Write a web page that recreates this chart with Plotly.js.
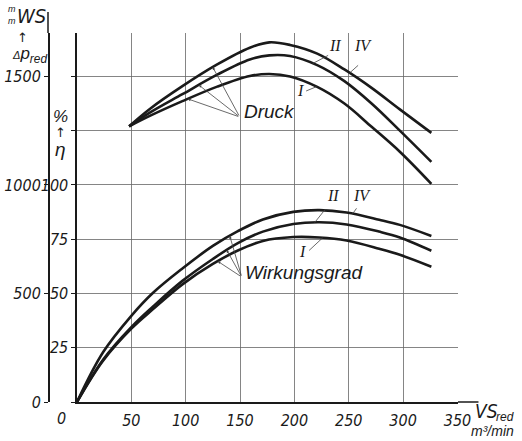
<!DOCTYPE html>
<html><head><meta charset="utf-8">
<script src="https://cdn.plot.ly/plotly-3.0.1.min.js"></script>
<style>html,body{margin:0;padding:0;background:#fff}</style>
</head><body><div id="chart" style="width:522px;height:441px"></div>
<script>
// ---- data ----
const qDruck  = [48, 67, 97, 129, 159, 177, 196, 221, 246, 271, 297, 326];
const druckIV = [1270, 1350, 1455, 1555, 1632, 1657, 1645, 1605, 1532, 1447, 1348, 1240];
const druckII = [1270, 1333, 1418, 1508, 1578, 1597, 1594, 1552, 1478, 1375, 1250, 1106];
const druckI  = [1270, 1318, 1386, 1453, 1502, 1511, 1500, 1452, 1375, 1268, 1153, 1005];
const qEta  = [0, 24, 50, 70, 97, 125, 148, 171, 199, 223, 248, 278, 297, 326];
const etaIV = [0, 22.9, 39.7, 50.3, 61.5, 71.9, 78.7, 84.1, 87.6, 88.4, 87.3, 84.0, 81.6, 76.5];
const etaII = [0, 19.5, 34.5, 44.0, 55.8, 65.9, 73.2, 78.5, 82.0, 82.8, 81.8, 78.5, 75.8, 69.7];
const etaI  = [0, 19.0, 33.8, 42.8, 54.2, 63.6, 69.8, 74.2, 76.0, 75.8, 74.4, 70.6, 67.8, 62.3];
const xTicks = [50, 100, 150, 200, 250, 300, 350];
const etaTicks = [0, 25, 50, 75, 100, 125, 150];
const etaTickText = ['', '25', '50', '75', '100', '', ''];
const dpTicks = [0, 500, 1000, 1500];

// ---- styling / layout ----
const FONT = '"Liberation Sans", Arial, sans-serif';
const NARROW = '"Liberation Sans Narrow", "DejaVu Sans Condensed", "Liberation Sans", sans-serif';
const SERIF = '"Liberation Serif", "DejaVu Serif", serif';
const INK = '#1a1a1a';
const W = 522, H = 441;
const L = 48, R = 458.5, T = 33, B = 402;
const pw = R - L, ph = B - T;
const px2x = p => (p - L) / pw;
const py2y = p => (B - p) / ph;

function interp(xs, ys, x) {
  for (let i = 0; i < xs.length - 1; i++) {
    if (x >= xs[i] && x <= xs[i + 1]) {
      const t = (x - xs[i]) / (xs[i + 1] - xs[i]);
      return ys[i] + t * (ys[i + 1] - ys[i]);
    }
  }
  return ys[ys.length - 1];
}

const lineStyle = {color: INK, width: 2.6, shape: 'spline', smoothing: 1};
const traces = [
  {x: qDruck, y: druckI,  yaxis: 'y2', name: 'Druck I'},
  {x: qDruck, y: druckII, yaxis: 'y2', name: 'Druck II'},
  {x: qDruck, y: druckIV, yaxis: 'y2', name: 'Druck IV'},
  {x: qEta, y: etaI,  name: 'η I'},
  {x: qEta, y: etaII, name: 'η II'},
  {x: qEta, y: etaIV, name: 'η IV'}
].map(t => Object.assign({mode: 'lines', line: lineStyle, hoverinfo: 'skip', showlegend: false}, t));

const ann = [];
function txt(text, px, py, size, opts) {
  ann.push(Object.assign({
    text, xref: 'paper', yref: 'paper', x: px2x(px), y: py2y(py),
    showarrow: false, xanchor: 'center', yanchor: 'middle',
    font: {family: FONT, size, color: INK, style: 'italic'}
  }, opts || {}));
}
// axis titles
txt('m', 12, 9, 9);
txt('m', 12, 21, 9);
txt('WS', 31, 16, 19, {font: {family: NARROW, size: 20, color: INK, style: 'italic'}});
txt('↑', 22, 38, 13, {font: {family: '"DejaVu Sans"', size: 13, color: INK}});
txt('<span style="font-size:11px">Δ</span>p<sub>red</sub>', 29, 55, 17);
txt('%', 61, 116, 17);
txt('↑', 61, 132, 13, {font: {family: '"DejaVu Sans"', size: 13, color: INK}});
txt('η', 61, 149, 19);
txt('0', 62, 418, 15, {font: {family: NARROW, size: 16, color: INK, style: 'italic'}});
txt('VS', 474, 411, 17, {xanchor: 'left', font: {family: NARROW, size: 19, color: INK, style: 'italic'}});
txt('red', 495, 417, 12, {xanchor: 'left'});
txt('m³/min', 517, 431, 14, {xanchor: 'right'});
txt('Druck', 242, 111, 19, {xanchor: 'left'});
txt('Wirkungsgrad', 243, 272, 19, {xanchor: 'left'});
// roman numerals
const romanFont = {family: SERIF, size: 16, color: INK, style: 'italic'};
[['II', 335, 46], ['IV', 363, 46], ['I', 301, 91],
 ['II', 333, 196], ['IV', 362, 196], ['I', 303, 251]].forEach(r => txt(r[0], r[1], r[2], 16, {font: romanFont}));

// pointer helper: head on a curve (data coords)
const pxQ = p => (p - 77) / (381 / 350);
function arrowTo(q, yv, yref, axv, ayv, head, dataTail) {
  const a = {
    text: '', x: q, y: yv, xref: 'x', yref: yref, showarrow: true,
    arrowhead: head, arrowsize: 0.7, arrowwidth: 0.8, arrowcolor: '#444',
    ax: axv, ay: ayv, standoff: 0, startstandoff: 0
  };
  if (dataTail) { a.axref = 'x'; a.ayref = yref; }
  ann.push(a);
}
// Druck pointers (tail where the word starts)
const druckTailQ = pxQ(240), druckTailV = (402 - 117) / (ph / 1700);
arrowTo(pxQ(213), interp(qDruck, druckIV, pxQ(213)), 'y2', druckTailQ, druckTailV, 2, true);
arrowTo(pxQ(199), interp(qDruck, druckII, pxQ(199)), 'y2', druckTailQ, druckTailV, 2, true);
arrowTo(pxQ(188), interp(qDruck, druckI, pxQ(188)), 'y2', druckTailQ, druckTailV, 2, true);
// Wirkungsgrad pointers
const wTailQ = pxQ(242), wTailV = (402 - 277) / (ph / 170);
arrowTo(pxQ(230), interp(qEta, etaIV, pxQ(230)), 'y', wTailQ, wTailV, 2, true);
arrowTo(pxQ(227), interp(qEta, etaII, pxQ(227)), 'y', wTailQ, wTailV, 2, true);
arrowTo(pxQ(218), interp(qEta, etaI, pxQ(218)), 'y', wTailQ, wTailV, 2, true);
// roman numeral leader lines (pixel offsets)
arrowTo(pxQ(313), interp(qDruck, druckII, pxQ(313)), 'y2', 17, -9, 0);
arrowTo(pxQ(350), interp(qDruck, druckIV, pxQ(350)), 'y2', 10, -9, 0);
arrowTo(pxQ(317), interp(qDruck, druckI, pxQ(317)), 'y2', -12, 5, 0);
arrowTo(pxQ(315), interp(qEta, etaII, pxQ(315)), 'y', 12, -15, 0);
arrowTo(pxQ(353), interp(qEta, etaIV, pxQ(353)), 'y', 5, -7, 0);
arrowTo(pxQ(323), interp(qEta, etaI, pxQ(323)), 'y', -15, 14, 0);

const tickFont = {family: NARROW, size: 16, color: INK, style: 'italic'};
const layout = {
  width: W, height: H,
  margin: {l: L, r: W - R, t: T, b: H - B, pad: 0},
  paper_bgcolor: '#fff', plot_bgcolor: '#fff',
  showlegend: false,
  xaxis: {
    domain: [(77 - L) / pw, 1], range: [0, 350.5],
    tickvals: xTicks, ticktext: xTicks.map(String), ticks: '',
    showgrid: true, gridcolor: '#666', gridwidth: 0.8,
    zeroline: false, showline: true, linecolor: INK, linewidth: 1.5,
    tickfont: tickFont, ticklabelstandoff: 3, fixedrange: true
  },
  yaxis: {
    anchor: 'x', range: [0, 170],
    tickvals: etaTicks, ticktext: etaTickText,
    ticks: 'outside', ticklen: 4, tickcolor: INK, tickwidth: 1,
    showgrid: true, gridcolor: '#666', gridwidth: 0.8,
    zeroline: false, showline: true, linecolor: INK, linewidth: 1.5,
    tickfont: tickFont, ticklabelstandoff: 0, fixedrange: true
  },
  yaxis2: {
    overlaying: 'y', anchor: 'free', position: 0, side: 'left', range: [0, 1700],
    tickvals: dpTicks, ticktext: dpTicks.map(String),
    ticks: 'outside', ticklen: 4, tickcolor: INK, tickwidth: 1,
    showgrid: false, zeroline: false, showline: true, linecolor: INK, linewidth: 1.5,
    tickfont: tickFont, ticklabelstandoff: 0, fixedrange: true
  },
  shapes: [
    {type: 'line', xref: 'paper', yref: 'paper', x0: 0, x1: 0, y0: 1, y1: py2y(12), line: {color: INK, width: 1.5}},
    {type: 'line', xref: 'paper', yref: 'paper', x0: 1, x1: px2x(479), y0: 0, y1: 0, line: {color: INK, width: 1.5}}
  ],
  annotations: ann
};
Plotly.newPlot('chart', traces, layout, {displayModeBar: false, staticPlot: true});
</script>
</body></html>
